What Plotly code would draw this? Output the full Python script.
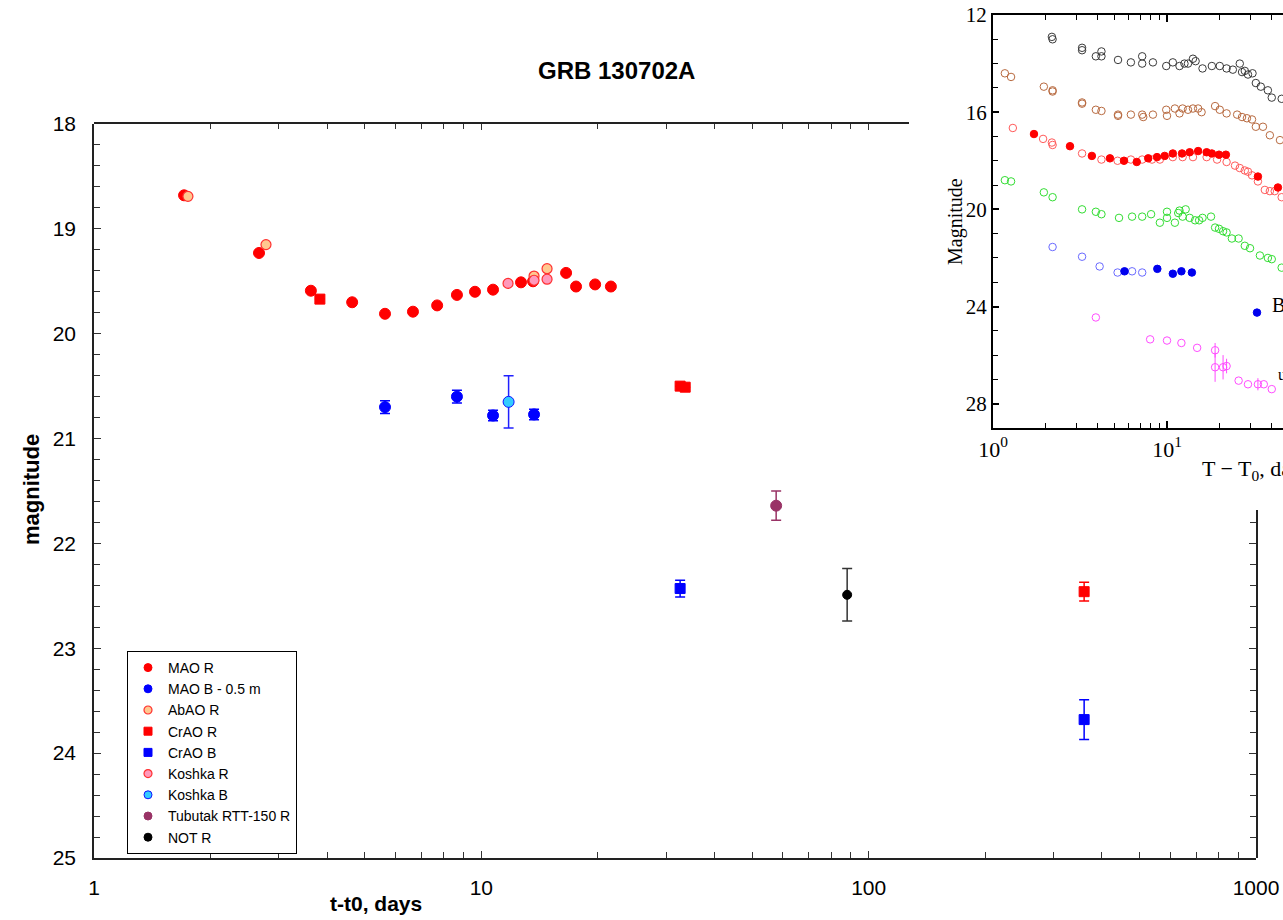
import plotly.graph_objects as go

W, H = 1283, 920

# ---------------- main chart data ----------------
mao_r_t = [1.708, 2.667, 3.63, 4.64, 5.64, 6.66, 7.69, 8.65, 9.63, 10.72, 12.66, 13.6, 16.55, 17.56, 19.67, 21.6]
mao_r_m = [18.68, 19.23, 19.59, 19.70, 19.81, 19.79, 19.73, 19.63, 19.60, 19.58, 19.51, 19.50, 19.42, 19.55, 19.53, 19.55]

mao_b_t = [5.64, 8.65, 10.72, 13.68]
mao_b_m = [20.70, 20.60, 20.78, 20.77]
mao_b_e = [0.06, 0.06, 0.05, 0.05]

abao_r_t = [1.748, 2.78, 13.68, 14.78]
abao_r_m = [18.69, 19.15, 19.45, 19.38]

crao_r_t = [3.83, 32.6, 33.6, 360]
crao_r_m = [19.67, 20.50, 20.51, 22.46]
crao_r_e = [None, None, None, 0.09]

crao_b_t = [32.6, 360]
crao_b_m = [22.43, 23.68]
crao_b_e = [0.08, 0.19]

koshka_r_t = [11.72, 13.68, 14.78]
koshka_r_m = [19.52, 19.49, 19.48]

koshka_b_t = [11.76]
koshka_b_m = [20.65]
koshka_b_e = [0.25]

tubutak_t = [57.7]
tubutak_m = [21.64]
tubutak_e = [0.14]

not_t = [88]
not_m = [22.49]
not_e = [0.25]

x_major = [1, 10, 100, 1000]
x_major_text = ["1", "10", "100", "1000"]
x_minor = [2, 3, 4, 5, 6, 7, 8, 9, 20, 30, 40, 50, 60, 70, 80, 90, 200, 300, 400, 500, 600, 700, 800, 900]
y_major = [18, 19, 20, 21, 22, 23, 24, 25]
y_minor = [round(18 + 0.2 * i, 1) for i in range(36)]

# ---------------- inset data ----------------
in_black_t = [2.18, 2.2, 3.25, 3.25, 3.9, 4.2, 4.2, 5.23, 6.2, 7.2, 7.2, 8.3, 9.9, 10.8, 11.8, 12.6, 13.2, 14.1, 14.6,
              16.0, 18.1, 20.1, 22.0, 23.9, 26.2, 27.0, 28.0, 29.2, 31.0, 32.4, 34.6, 38.0, 40.0, 45.6]
in_black_m = [12.9, 13.0, 13.35, 13.45, 13.7, 13.5, 13.7, 13.85, 13.95, 13.7, 14.0, 13.95, 14.1, 13.95, 14.1, 14.0, 14.0, 13.8, 13.9,
              14.2, 14.1, 14.1, 14.2, 14.25, 14.0, 14.35, 14.3, 14.45, 14.4, 14.8, 14.95, 15.1, 15.4, 15.45]

in_brown_t = [1.17, 1.27, 1.96, 2.2, 2.2, 3.25, 3.25, 3.9, 4.2, 5.23, 5.23, 6.2, 7.2, 7.3, 8.3, 9.9, 10.0, 11.1, 11.8, 12.3,
              13.2, 14.1, 15.1, 15.8, 18.9, 20.1, 22.0, 25.3, 27.0, 28.8, 30.8, 32.4, 35.6, 39.0, 44.6]
in_brown_m = [14.4, 14.55, 14.95, 15.1, 15.15, 15.6, 15.65, 15.9, 15.95, 16.1, 16.15, 16.1, 16.1, 16.2, 16.1, 15.9, 16.15, 15.85, 16.05, 15.85,
              15.9, 15.85, 15.85, 16.0, 15.75, 15.9, 16.05, 16.1, 16.2, 16.25, 16.3, 16.6, 16.6, 16.95, 17.15]

in_red_open_t = [1.3, 1.94, 2.18, 2.2, 3.25, 4.2, 5.2, 6.2, 7.2, 8.2, 9.1, 10.8, 12.3, 14.1, 16.9, 19.4, 22.0, 24.6, 26.2, 28.0,
                 29.2, 30.8, 33.3, 36.5, 39.0, 41.6, 45.6]
in_red_open_m = [16.65, 17.1, 17.25, 17.35, 17.7, 17.95, 18.0, 17.95, 17.95, 17.95, 17.95, 17.85, 17.85, 17.85, 17.85, 17.95, 18.05, 18.2, 18.3, 18.4,
                 18.45, 18.6, 18.85, 19.2, 19.25, 19.25, 19.5]

in_red_fill_t = [1.72, 2.77, 3.7, 4.7, 5.66, 6.7, 7.8, 8.76, 9.7, 10.8, 12.2, 13.5, 15.1, 16.9, 18.1, 19.9, 21.8, 33.3, 43.4]
in_red_fill_m = [16.9, 17.4, 17.8, 17.9, 18.0, 18.05, 17.9, 17.85, 17.8, 17.7, 17.7, 17.65, 17.6, 17.65, 17.7, 17.75, 17.75, 18.65, 19.1]

in_green_t = [1.17, 1.27, 1.96, 2.2, 3.25, 3.9, 4.2, 5.3, 6.3, 7.2, 8.1, 9.1, 10.0, 10.0, 11.1, 11.6, 11.8, 12.8, 12.3, 13.5,
              14.5, 15.3, 16.0, 17.9, 18.9, 19.9, 21.0, 22.0, 23.6, 25.8, 28.0, 30.0, 34.2, 38.0, 40.0, 45.6]
in_green_m = [18.8, 18.85, 19.3, 19.5, 20.0, 20.1, 20.2, 20.35, 20.3, 20.3, 20.2, 20.55, 20.1, 20.35, 20.55, 20.15, 20.05, 20.0, 20.3, 20.35,
              20.45, 20.45, 20.35, 20.3, 20.75, 20.8, 20.9, 20.95, 21.2, 21.2, 21.5, 21.6, 21.9, 22.0, 22.05, 22.4]

in_blue_open_t = [2.2, 3.25, 4.1, 5.2, 6.3, 7.2]
in_blue_open_m = [21.55, 21.95, 22.35, 22.6, 22.55, 22.6]

in_blue_fill_t = [5.7, 8.8, 10.8, 12.1, 13.9, 32.9]
in_blue_fill_m = [22.55, 22.45, 22.65, 22.55, 22.6, 24.25]

in_mag_t = [3.9, 8.0, 10.0, 12.1, 14.9, 18.9, 18.9, 21.0, 22.0, 25.8, 29.2, 33.3, 36.0, 40.0]
in_mag_m = [24.45, 25.35, 25.4, 25.5, 25.7, 25.8, 26.5, 26.5, 26.45, 27.05, 27.2, 27.2, 27.2, 27.4]
in_mag_e = [None, None, None, None, None, 0.3, 0.6, 0.5, 0.3, None, None, 0.25, None, None]

in_x_major = [1, 10, 100]
in_x_major_text = ["10<sup>0</sup>", "10<sup>1</sup>", "10<sup>2</sup>"]
in_x_minor = [2, 3, 4, 5, 6, 7, 8, 9, 20, 30, 40, 50]
in_y_major = [12, 16, 20, 24, 28]
in_y_minor = [13, 14, 15, 17, 18, 19, 21, 22, 23, 25, 26, 27]

# ---------------- geometry (pixels -> paper) ----------------
def px(x):
    return x / W

def py(y):
    return 1 - y / H

MAIN_L, MAIN_R, MAIN_T, MAIN_B = 94, 1256, 124, 858
TOP_END = 909
RIGHT_START = 510
IN_L, IN_T, IN_B = 993, 15, 428
IN_DECADE = 174.0

main_decade = (MAIN_R - MAIN_L) / 3.0
top_range_end = (TOP_END - MAIN_L) / main_decade
mag_per_px = 7.0 / (MAIN_B - MAIN_T)
right_top_mag = 18 + (RIGHT_START - MAIN_T) * mag_per_px
inset_range_end = (W - IN_L) / IN_DECADE

SANS = "Liberation Sans, Arial, sans-serif"
SERIF = "Liberation Serif, Times New Roman, serif"

fig = go.Figure()

def add_main(name, t, m, color, fill, symbol, size, err=None, errcolor=None, lw=1, legsize=8):
    kw = {}
    if err is not None:
        kw["error_y"] = dict(type="data", array=err, visible=True, color=errcolor or color,
                             thickness=1.5, width=5)
    fig.add_trace(go.Scatter(
        x=t, y=m, mode="markers", name=name, showlegend=False,
        marker=dict(symbol=symbol, size=size, color=fill, line=dict(color=color, width=lw)),
        xaxis="x", yaxis="y", **kw))
    # legend-only entry with the smaller legend symbol
    fig.add_trace(go.Scatter(
        x=[None], y=[None], mode="markers", name=name, showlegend=True,
        marker=dict(symbol=symbol, size=legsize, color=fill, line=dict(color=color, width=lw)),
        xaxis="x", yaxis="y"))

add_main("MAO R", mao_r_t, mao_r_m, "#ff0000", "#ff0000", "circle", 11)
add_main("MAO B - 0.5 m", mao_b_t, mao_b_m, "#0000ff", "#0000ff", "circle", 11, mao_b_e)
add_main("AbAO R", abao_r_t, abao_r_m, "#ff3030", "#ffc890", "circle", 10, lw=1.2)
add_main("CrAO R", crao_r_t, crao_r_m, "#ff0000", "#ff0000", "square", 10, crao_r_e)
add_main("CrAO B", crao_b_t, crao_b_m, "#0000ff", "#0000ff", "square", 10, crao_b_e)
add_main("Koshka R", koshka_r_t, koshka_r_m, "#ff3030", "#ff99bb", "circle", 10, lw=1.2)
add_main("Koshka B", koshka_b_t, koshka_b_m, "#1010ff", "#33ccff", "circle", 11, koshka_b_e, "#2020ff")
add_main("Tubutak RTT-150 R", tubutak_t, tubutak_m, "#993366", "#993366", "circle", 11, tubutak_e)
add_main("NOT R", not_t, not_m, "#000000", "#000000", "circle", 9, not_e, "#333333")

# dummy traces for frame-only axes
fig.add_trace(go.Scatter(x=[], y=[], xaxis="x3", yaxis="y3", showlegend=False, hoverinfo="skip"))
fig.add_trace(go.Scatter(x=[], y=[], xaxis="x4", yaxis="y4", showlegend=False, hoverinfo="skip"))

def add_inset(t, m, color, symbol, err=None):
    kw = {}
    if err is not None:
        kw["error_y"] = dict(type="data", array=err, visible=True, color=color, thickness=1, width=0)
    fig.add_trace(go.Scatter(
        x=t, y=m, mode="markers", showlegend=False,
        marker=dict(symbol=symbol, size=7.5, color=color, line=dict(color=color, width=1)),
        xaxis="x2", yaxis="y2", **kw))

add_inset(in_black_t, in_black_m, "#3a3a3a", "circle-open")
add_inset(in_brown_t, in_brown_m, "#b86a40", "circle-open")
add_inset(in_red_open_t, in_red_open_m, "#ff5a5a", "circle-open")
add_inset(in_red_fill_t, in_red_fill_m, "#ff0000", "circle")
add_inset(in_green_t, in_green_m, "#33dd33", "circle-open")
add_inset(in_blue_open_t, in_blue_open_m, "#6a6aff", "circle-open")
add_inset(in_blue_fill_t, in_blue_fill_m, "#0000ee", "circle")
add_inset(in_mag_t, in_mag_m, "#ff4cff", "circle-open", in_mag_e)

axis_line = dict(showline=True, linecolor="#222222", linewidth=1.5, showgrid=False, zeroline=False, automargin=False)

fig.update_layout(
    template="none",
    width=W, height=H,
    margin=dict(l=0, r=0, t=0, b=0, autoexpand=False),
    paper_bgcolor="white", plot_bgcolor="rgba(0,0,0,0)",
    font=dict(family=SANS, color="#000000"),
    xaxis=dict(type="log", range=[0, 3], domain=[px(MAIN_L), px(MAIN_R)], anchor="y",
               tickvals=x_major, ticktext=x_major_text, ticks="inside", ticklen=7, tickwidth=1.2,
               tickcolor="#333333", tickfont=dict(size=21, family=SANS), ticklabelstandoff=10,
               minor=dict(tickvals=x_minor, ticks="inside", ticklen=6, tickwidth=1, tickcolor="#333333", showgrid=False),
               **axis_line),
    yaxis=dict(range=[25, 18], domain=[py(MAIN_B), py(MAIN_T)], anchor="x",
               tickvals=y_major, ticks="inside", ticklen=7, tickwidth=1.2, tickcolor="#333333",
               tickfont=dict(size=21, family=SANS), ticklabelstandoff=12,
               minor=dict(tickvals=y_minor, ticks="inside", ticklen=6, tickwidth=1, tickcolor="#333333", showgrid=False),
               **axis_line),
    xaxis3=dict(type="log", range=[0, top_range_end], domain=[px(MAIN_L), px(TOP_END)], anchor="y3",
                side="top", tickvals=x_major, showticklabels=False, ticks="inside", ticklen=6, tickwidth=1.2,
                tickcolor="#333333",
                minor=dict(tickvals=x_minor, ticks="inside", ticklen=5, tickwidth=1, tickcolor="#333333", showgrid=False),
                **axis_line),
    yaxis3=dict(range=[0, 1], domain=[py(MAIN_B), py(MAIN_T)], anchor="x3", visible=False, automargin=False),
    xaxis4=dict(range=[0, 1], domain=[px(MAIN_L), px(MAIN_R)], anchor="y4", visible=False, automargin=False),
    yaxis4=dict(range=[25, right_top_mag], domain=[py(MAIN_B), py(RIGHT_START)], anchor="x4", side="right",
                tickvals=y_major, showticklabels=False, ticks="inside", ticklen=7, tickwidth=1.2, tickcolor="#333333",
                minor=dict(tickvals=y_minor, ticks="inside", ticklen=6, tickwidth=1, tickcolor="#333333", showgrid=False),
                **axis_line),
    xaxis2=dict(type="log", range=[0, inset_range_end], domain=[px(IN_L), 1.0], anchor="y2",
                tickvals=in_x_major, ticktext=in_x_major_text, ticks="inside", ticklen=7, tickwidth=1.5,
                tickcolor="#000000", tickfont=dict(size=22, family=SERIF), ticklabelstandoff=0,
                mirror="ticks", showline=True, linecolor="#000000", linewidth=2.2, showgrid=False, zeroline=False,
                automargin=False,
                minor=dict(tickvals=in_x_minor, ticks="inside", ticklen=5, tickwidth=1.3, tickcolor="#000000", showgrid=False)),
    yaxis2=dict(range=[29, 12], domain=[py(IN_B), py(IN_T)], anchor="x2",
                tickvals=in_y_major, ticks="inside", ticklen=6, tickwidth=1.5, tickcolor="#000000",
                tickfont=dict(size=21, family=SERIF), ticklabelstandoff=0,
                showline=True, linecolor="#000000", linewidth=2.2, showgrid=False, zeroline=False,
                automargin=False,
                minor=dict(tickvals=in_y_minor, ticks="inside", ticklen=5, tickwidth=1.3, tickcolor="#000000", showgrid=False)),
    legend=dict(x=px(127), y=py(651), xanchor="left", yanchor="top",
                bgcolor="white", bordercolor="#000000", borderwidth=1,
                font=dict(size=14, family=SANS), tracegroupgap=0, itemwidth=30),
    showlegend=True,
)

def note(text, x, y, size, family, angle=0, xanchor="center"):
    return dict(text=text, x=px(x), y=py(y), xref="paper", yref="paper", showarrow=False,
                xanchor=xanchor, yanchor="middle", textangle=angle, font=dict(size=size, family=family))

annotations = [
    note("<b>GRB 130702A</b>", 616, 70, 24, SANS),
    note("<b>magnitude</b>", 31, 490, 22, SANS, angle=-90),
    note("<b>t-t0, days</b>", 376, 903, 21, SANS),
    note("Magnitude", 955, 222, 20, SERIF, angle=-90),
    note("T − T<sub>0</sub>, days", 1200, 470, 22, SERIF, xanchor="left"),
    note("B", 1270, 305, 20, SERIF, xanchor="left"),
    note("u", 1276, 374, 16, SERIF, xanchor="left"),
]
fig.update_layout(annotations=annotations)

fig.write_html("out.html")
